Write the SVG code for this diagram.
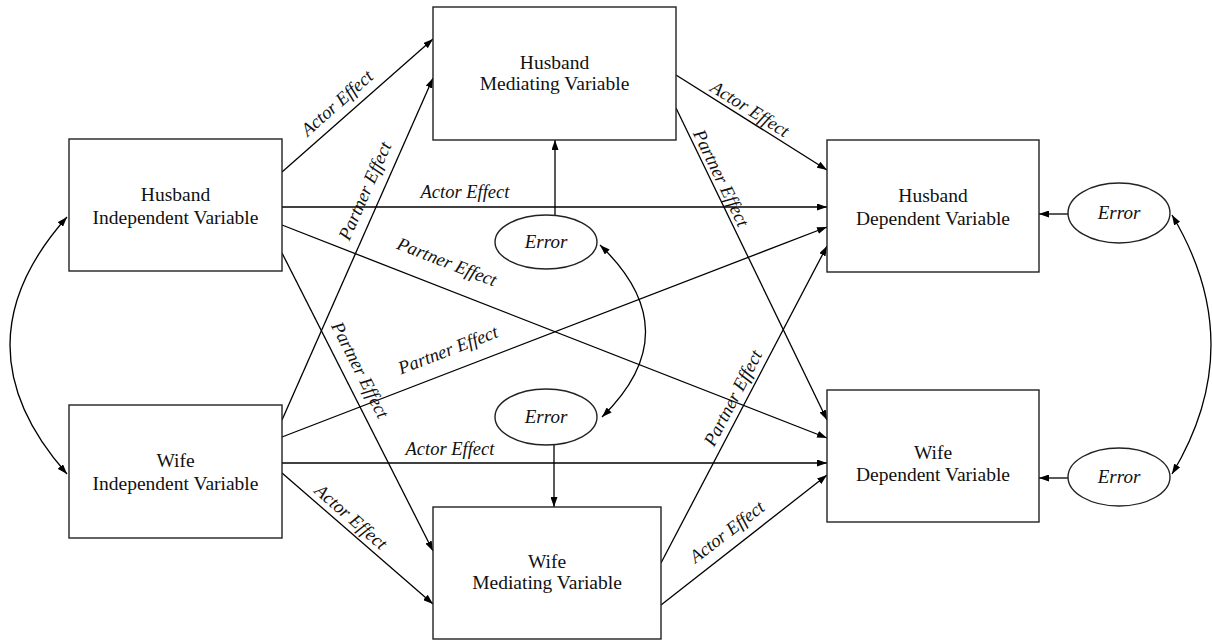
<svg xmlns="http://www.w3.org/2000/svg" width="1212" height="640" viewBox="0 0 1212 640">
<defs>
<marker id="arr" viewBox="0 0 10 7" refX="10" refY="3.5" markerWidth="10" markerHeight="7" markerUnits="userSpaceOnUse" orient="auto-start-reverse">
<path d="M0,0 L10,3.5 L0,7 z" fill="#000"/>
</marker>
</defs>
<style>
.box{fill:#fff;stroke:#222;stroke-width:1.4}
.ell{fill:#fff;stroke:#222;stroke-width:1.4}
.nt{font-family:"Liberation Serif","Times New Roman",serif;font-size:19.5px;fill:#111;text-anchor:middle}
.et{font-family:"Liberation Serif","Times New Roman",serif;font-size:19px;font-style:italic;fill:#111;text-anchor:middle}
.lbl{font-family:"Liberation Serif","Times New Roman",serif;font-size:18.5px;font-style:italic;fill:#111;text-anchor:middle}
.ln{fill:none;stroke:#000;stroke-width:1.3;marker-end:url(#arr)}
.dbl{fill:none;stroke:#000;stroke-width:1.3;marker-end:url(#arr);marker-start:url(#arr)}
</style>
<rect width="1212" height="640" fill="#fff"/>

<g id="connectors">
<line class="ln" x1="282" y1="172" x2="433" y2="39"/>
<line class="ln" x1="282" y1="420" x2="433" y2="78"/>
<line class="ln" x1="282" y1="207" x2="827" y2="207"/>
<line class="ln" x1="282" y1="225" x2="827" y2="438"/>
<line class="ln" x1="282" y1="437" x2="827" y2="227"/>
<line class="ln" x1="282" y1="253" x2="433" y2="551"/>
<line class="ln" x1="282" y1="473" x2="433" y2="604"/>
<line class="ln" x1="275" y1="463" x2="827" y2="463"/>
<line class="ln" x1="676" y1="75" x2="827" y2="170"/>
<line class="ln" x1="676" y1="108" x2="827" y2="420"/>
<line class="ln" x1="661" y1="563" x2="827" y2="246"/>
<line class="ln" x1="661" y1="605" x2="827" y2="475"/>
<line class="ln" x1="555" y1="216" x2="555" y2="140"/>
<line class="ln" x1="554" y1="445" x2="554" y2="507"/>
<line class="ln" x1="1068" y1="214" x2="1039" y2="214"/>
<line class="ln" x1="1068" y1="478" x2="1039" y2="478"/>
<path class="dbl" d="M600,245 Q690,331 602,417"/>
<path class="dbl" d="M67,217 Q-47,345 67,474"/>
<path class="dbl" d="M1172,215 Q1250,345 1172,474"/>

<text class="lbl" transform="translate(337,103) rotate(-41.4)" y="6">Actor Effect</text>
<text class="lbl" transform="translate(365,191) rotate(-66.2)" y="6">Partner Effect</text>
<text class="lbl" x="465" y="198">Actor Effect</text>
<text class="lbl" transform="translate(447,262) rotate(21.3)" y="6">Partner Effect</text>
<text class="lbl" transform="translate(448,350) rotate(-21.1)" y="6">Partner Effect</text>
<text class="lbl" transform="translate(360,370) rotate(63.1)" y="6">Partner Effect</text>
<text class="lbl" x="450" y="455">Actor Effect</text>
<text class="lbl" transform="translate(351,517) rotate(41)" y="6">Actor Effect</text>
<text class="lbl" transform="translate(750,109) rotate(32.2)" y="6">Actor Effect</text>
<text class="lbl" transform="translate(721,178) rotate(64.2)" y="6">Partner Effect</text>
<text class="lbl" transform="translate(733,398) rotate(-62.4)" y="6">Partner Effect</text>
<text class="lbl" transform="translate(727,532) rotate(-37.6)" y="6">Actor Effect</text>
</g>

<g id="husband-independent">
<rect class="box" x="69" y="139" width="213" height="132"/>
<text class="nt" x="175.5" y="201">Husband</text>
<text class="nt" x="175.5" y="224">Independent Variable</text>
</g>
<g id="wife-independent">
<rect class="box" x="69" y="405" width="213" height="133"/>
<text class="nt" x="175.5" y="467">Wife</text>
<text class="nt" x="175.5" y="490">Independent Variable</text>
</g>
<g id="husband-mediating">
<rect class="box" x="433" y="7" width="243" height="133"/>
<text class="nt" x="554.5" y="69">Husband</text>
<text class="nt" x="554.5" y="90">Mediating Variable</text>
</g>
<g id="wife-mediating">
<rect class="box" x="433" y="507" width="228" height="132"/>
<text class="nt" x="547" y="568">Wife</text>
<text class="nt" x="547" y="589">Mediating Variable</text>
</g>
<g id="husband-dependent">
<rect class="box" x="827" y="140" width="212" height="132"/>
<text class="nt" x="933" y="202">Husband</text>
<text class="nt" x="933" y="225">Dependent Variable</text>
</g>
<g id="wife-dependent">
<rect class="box" x="827" y="390" width="212" height="132"/>
<text class="nt" x="933" y="459">Wife</text>
<text class="nt" x="933" y="481">Dependent Variable</text>
</g>
<g id="error-husband-mediating">
<ellipse class="ell" cx="546" cy="242" rx="51" ry="27"/>
<text class="et" x="546" y="248">Error</text>
</g>
<g id="error-wife-mediating">
<ellipse class="ell" cx="546" cy="417" rx="51" ry="28"/>
<text class="et" x="546" y="423">Error</text>
</g>
<g id="error-husband-dependent">
<ellipse class="ell" cx="1119" cy="213" rx="51" ry="30"/>
<text class="et" x="1119" y="219">Error</text>
</g>
<g id="error-wife-dependent">
<ellipse class="ell" cx="1119" cy="477" rx="51" ry="29"/>
<text class="et" x="1119" y="483">Error</text>
</g>
</svg>
